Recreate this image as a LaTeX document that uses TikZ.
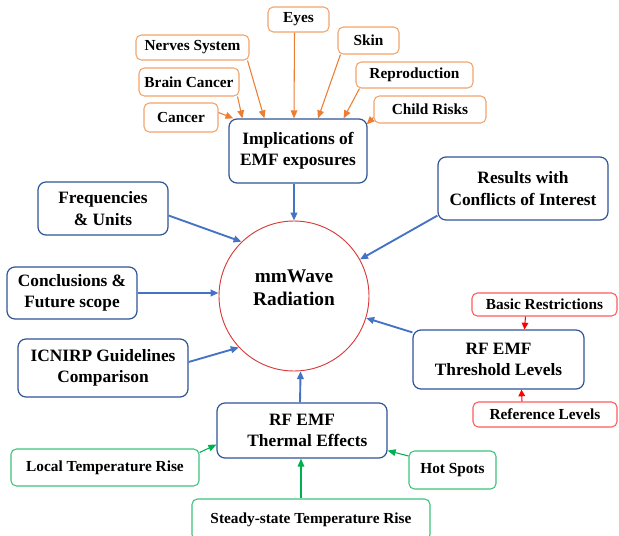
\documentclass[tikz,border=0pt]{standalone}
\usepackage{fontspec}
\setmainfont{Liberation Serif}
\usepackage{xcolor}
\usetikzlibrary{arrows.meta,calc,positioning}

\definecolor{boxblue}{HTML}{2F5597}
\definecolor{arrblue}{HTML}{4472C4}
\definecolor{orgline}{HTML}{F4A46A}
\definecolor{orgarr}{HTML}{ED7D31}
\definecolor{redline}{HTML}{FF5B5B}
\definecolor{grnline}{HTML}{3CC47C}
\definecolor{grnarr}{HTML}{00B050}
\definecolor{circred}{HTML}{D93A3A}

\tikzset{
    mainbox/.style={draw=boxblue,line width=0.9pt,rounded corners=6pt,fill=white,align=center,
        font=\fontsize{13}{16}\selectfont\bfseries,inner sep=1pt},
    smallbox/.style={rounded corners=4pt,fill=white,line width=0.8pt,align=center,
        font=\fontsize{11.5}{13}\selectfont\bfseries,inner sep=1pt},
    orgbox/.style={smallbox,draw=orgline},
    redbox/.style={smallbox,draw=redline},
    grnbox/.style={smallbox,draw=grnline},
    bluearr/.style={-{Triangle[length=6pt,width=5pt]},line width=1.4pt,arrblue},
    orgarrow/.style={-{Triangle[length=6pt,width=5pt]},line width=0.8pt,orgarr},
    redarrow/.style={-{Triangle[length=5pt,width=5pt]},line width=0.8pt,red},
    grnarrow/.style={-{Triangle[length=6pt,width=5pt]},line width=0.8pt,grnarr}
}

\begin{document}
\begin{tikzpicture}[x=0.75pt,y=-0.75pt]
\useasboundingbox (0,0) rectangle (619,536);

% centre
\node[draw=circred,circle,line width=0.7pt,minimum size=112.5pt,inner sep=0pt,align=center,
    font=\fontsize{14.5}{17}\selectfont\bfseries] (circ) at (294,296) {mmWave\\Radiation\\[-4pt]};

% implications and their sub topics
\node[mainbox,minimum width=103.5pt,minimum height=48pt] (impl) at (298,151) {Implications of\\EMF exposures};
\node[orgbox,minimum width=55.5pt,minimum height=21.75pt] (cancer) at (181,117.5) {Cancer};
\node[orgbox,minimum width=75pt,minimum height=21pt] (brain) at (189,82) {Brain Cancer};
\node[orgbox,minimum width=84.75pt,minimum height=18.75pt] (nerves) at (192.5,47.5) {Nerves System};
\node[orgbox,minimum width=45.75pt,minimum height=18.75pt] (eyes) at (298.5,19.5) {Eyes};
\node[orgbox,minimum width=45.75pt,minimum height=20.25pt] (skin) at (368.5,40.5) {Skin};
\node[orgbox,minimum width=87.75pt,minimum height=19.5pt] (repro) at (414.5,75) {Reproduction};
\node[orgbox,minimum width=84pt,minimum height=20.25pt] (child) at (430,109.5) {Child Risks};

\draw[orgarrow] ($(cancer.east)+(0,-5)$) -- ($(impl.north west)+(5,0)$);
\draw[orgarrow] ($(brain.south east)+(-2,0)$) -- ($(impl.north west)+(14,0)$);
\draw[orgarrow] ($(nerves.south east)+(-2,0)$) -- ($(impl.north west)+(36,0)$);
\draw[orgarrow] ($(eyes.south)+(-4,0)$) -- ($(impl.north)+(-4,0)$);
\draw[orgarrow] ($(skin.south west)+(3,0)$) -- ($(impl.north)+(20,0)$);
\draw[orgarrow] ($(repro.south west)+(4,0)$) -- ($(impl.north east)+(-24,0)$);
\draw[orgarrow] ($(child.west)+(0,8)$) -- ($(impl.north east)+(-1,6)$);

% left side boxes
\node[mainbox,minimum width=97.5pt,minimum height=39.75pt] (freq) at (103,208.5) {Frequencies\\\& Units};
\node[mainbox,minimum width=97.5pt,minimum height=39pt] (concl) at (72,293) {Conclusions \&\\Future scope};
\node[mainbox,minimum width=127.5pt,minimum height=43.5pt] (icnirp) at (103,368) {ICNIRP Guidelines\\Comparison};

% right side boxes
\node[mainbox,minimum width=127.5pt,minimum height=47.25pt] (res) at (523,188.5) {Results with\\Conflicts of Interest};
\node[mainbox,minimum width=128.25pt,minimum height=44.25pt] (thr) at (498.5,359.5) {RF EMF\\Threshold Levels};
\node[redbox,minimum width=108.75pt,minimum height=17.25pt] (basic) at (544.5,304.5) {Basic Restrictions};
\node[redbox,minimum width=108pt,minimum height=18.75pt] (reflev) at (545,414.5) {Reference Levels};

% thermal effects
\node[mainbox,minimum width=127.5pt,minimum height=41.25pt] (thermal) at (302,430.5) {RF EMF\\\hspace*{8pt}Thermal Effects};
\node[grnbox,minimum width=141pt,minimum height=27.75pt] (local) at (105,467.5) {Local Temperature Rise};
\node[grnbox,minimum width=65.25pt,minimum height=28.5pt] (hot) at (452.5,470) {Hot Spots};
\node[grnbox,minimum width=178.5pt,minimum height=30.75pt] (steady) at (311,519.5) {Steady-state Temperature Rise};

% connectors to the centre
\draw[bluearr] ($(impl.south)+(-4,0)$) -- (circ.north);
\draw[bluearr] ($(freq.east)+(0,7)$) -- (circ.134);
\draw[bluearr] (concl.east) -- (concl.east -| circ.west);
\draw[bluearr] ($(icnirp.east)+(0,-6)$) -- (circ.223);
\draw[bluearr] ($(res.south west)+(0,-5)$) -- (circ.29);
\draw[bluearr] ($(thr.north west)+(0,3)$) -- (circ.-17);
\draw[bluearr] ($(thermal.north)+(-2,0)$) -- (circ.-85);

\draw[redarrow] ($(basic.south)+(-19,0)$) -- ($(thr.north)+(26,0)$);
\draw[redarrow] ($(reflev.north)+(-23,0)$) -- ($(thr.south)+(23,0)$);

\draw[grnarrow] ($(local.east)+(0,-15)$) -- ($(thermal.south west)+(0,-14)$);
\draw[grnarrow] ($(hot.west)+(0,-14)$) -- ($(thermal.south east)+(0,-8)$);
\draw[grnarrow] ($(steady.north)+(-10,0)$) -- ($(thermal.south)+(-1,0)$);
\end{tikzpicture}
\end{document}
